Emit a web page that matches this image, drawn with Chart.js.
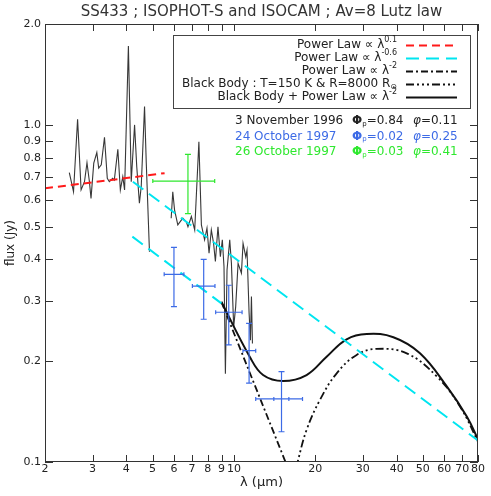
<!DOCTYPE html>
<html>
<head>
<meta charset="utf-8">
<script src="https://cdn.jsdelivr.net/npm/chart.js@4.4.1/dist/chart.umd.min.js"></script>
<style>
  html, body { margin: 0; padding: 0; background: #fff; }
</style>
</head>
<body>
<canvas id="chart" width="491" height="496"></canvas>
<script>
const FONT = '"DejaVu Sans", sans-serif';
const INK = '#222';

const titleText = 'SS433 ; ISOPHOT-S and ISOCAM ; Av=8 Lutz law';
const xTicks = [2, 3, 4, 5, 6, 7, 8, 9, 10, 20, 30, 40, 50, 60, 70, 80];
const yTicks = [0.1, 0.2, 0.3, 0.4, 0.5, 0.6, 0.7, 0.8, 0.9, 1.0, 2.0];

// 3 November 1996 spectrum (null = gap between the two detectors)
const specWave = [2.46, 2.55, 2.64, 2.72, 2.80, 2.86, 2.92, 2.96, 3.03, 3.11, 3.16, 3.23, 3.32, 3.40, 3.46,
  3.56, 3.61, 3.72, 3.80, 3.88, 3.94, 4.07, 4.17, 4.29, 4.37, 4.47, 4.54, 4.67, 4.74, 4.87,
  5.3,
  5.86, 5.94, 6.03, 6.20, 6.47, 6.67, 6.76, 6.96, 7.16, 7.42, 7.58, 7.79, 7.95, 8.09, 8.25,
  8.41, 8.54, 8.73, 8.91, 9.06, 9.19, 9.30, 9.43, 9.65, 9.79, 9.98, 10.15, 10.36, 10.66, 10.81,
  11.06, 11.18, 11.38, 11.51, 11.61, 11.71];
const specFlux = [0.724, 0.635, 1.043, 0.643, 0.680, 0.774, 0.680, 0.607, 0.772, 0.830, 0.746, 0.763, 0.922, 0.696, 0.680,
  0.696, 0.688, 0.849, 0.643, 0.704, 0.643, 1.721, 0.680, 1.003, 0.754, 0.587, 0.658, 1.137, 0.772, 0.4215,
  null,
  0.530, 0.635, 0.561, 0.506, 0.530, 0.516, 0.500, 0.536, 0.489, 0.894, 0.506, 0.457, 0.495, 0.417, 0.489,
  0.446, 0.394, 0.500, 0.407, 0.457, 0.380, 0.183, 0.372, 0.457, 0.389, 0.252, 0.289, 0.389, 0.364, 0.446,
  0.407, 0.426, 0.277, 0.230, 0.310, 0.225];

// model curves
const redWave = [2.0, 5.54];
const redFlux = [0.650, 0.721];
const cyanWave = [4.23, 80];
const cyanFlux = [0.680, 0.1158];
const cyanLowWave = [4.21, 8.99];
const cyanLowFlux = [0.467, 0.296];
const plWave = [8.99, 15.6];
const plFlux = [0.299, 0.099];
const bbWave = [16.8, 17.2, 18.57, 20.8, 24.0, 28.45, 33.7, 43.6, 56.4, 68.7, 80];
const bbFlux = [0.093, 0.100, 0.1245, 0.1528, 0.1834, 0.208, 0.2167, 0.2103, 0.1793, 0.146, 0.1149];
const sumWave = [8.99, 11.44, 12.82, 15.2, 18.57, 22.03, 26.12, 31.0, 38.9, 48.8, 61.4, 72.8, 80];
const sumFlux = [0.299, 0.2055, 0.1813, 0.174, 0.1813, 0.2055, 0.2315, 0.240, 0.2347, 0.2103, 0.1674, 0.1363, 0.1168];

// 24 October 1997 photometry (blue)
const blueWave = [6.0, 7.73, 9.57, 11.38, 15.0, 15.0];
const blueFlux = [0.361, 0.333, 0.2785, 0.2141, 0.1539, 0.1539];
const blueWaveLo = [5.52, 7.02, 8.56, 10.8, 12.04, 14.05];
const blueWaveHi = [6.53, 8.51, 10.72, 12.04, 17.94, 15.97];
const blueFluxLo = [0.2893, 0.2655, 0.2227, 0.1714, 0.1230, 0.1539];
const blueFluxHi = [0.434, 0.400, 0.335, 0.2582, 0.1855, 0.1539];

// 26 October 1997 photometry (green)
const greenWave = [6.76];
const greenFlux = [0.683];
const greenWaveLo = [5.01];
const greenWaveHi = [8.49];
const greenFluxLo = [0.547];
const greenFluxHi = [0.820];

const RED = '#ff1a1a';
const CYAN = '#00e5f0';
const BLUE = '#3d6be6';
const GREEN = '#2fe82f';

function pts(xs, ys) {
    return xs.map((x, i) => ({x: x, y: ys[i]}));
}

function line(label, xs, ys, color, width, dash, tension) {
    return {
        label: label,
        data: pts(xs, ys),
        borderColor: color,
        borderWidth: width,
        borderDash: dash,
        pointRadius: 0,
        fill: false,
        tension: tension || 0
    };
}

const datasets = [
    line('pl01', redWave, redFlux, RED, 2, [8, 5]),
    line('pl06', cyanWave, cyanFlux, CYAN, 2, [13, 7]),
    line('pl06b', cyanLowWave, cyanLowFlux, CYAN, 2, [13, 7]),
    line('pl2', plWave, plFlux, '#111', 1.8, [7, 3, 2, 3]),
    line('bb', bbWave, bbFlux, '#111', 1.8, [8, 3, 2, 3, 2, 3, 2, 3], 0.4),
    line('sum', sumWave, sumFlux, '#111', 2, [], 0.4),
    line('spec', specWave, specFlux, 'rgba(20,20,20,0.85)', 1.1, []),
    {label: 'blue', data: pts(blueWave, blueFlux), showLine: false, pointRadius: 0},
    {label: 'green', data: pts(greenWave, greenFlux), showLine: false, pointRadius: 0}
];

const legendRows = [
    {ds: 'pl01', parts: [['Power Law \u221D \u03BB', 12, 0], ['0.1', 8, -5]]},
    {ds: 'pl06', parts: [['Power Law \u221D \u03BB', 12, 0], ['-0.6', 8, -5]]},
    {ds: 'pl2', parts: [['Power Law \u221D \u03BB', 12, 0], ['-2', 8, -5]]},
    {ds: 'bb', parts: [['Black Body : T=150 K & R=8000 R', 12, 0], ['\u2299', 8, 3]]},
    {ds: 'sum', parts: [['Black Body + Power Law \u221D \u03BB', 12, 0], ['-2', 8, -5]]}
];

const notes = [
    {color: INK, date: '3 November 1996', phase: '0.84', phi: '0.11'},
    {color: BLUE, date: '24 October 1997', phase: '0.02', phi: '0.25'},
    {color: GREEN, date: '26 October 1997', phase: '0.03', phi: '0.41'}
];

// draw a run of text pieces (size, vertical shift); align 'left' or 'right'
function drawParts(ctx, parts, x, y, align) {
    let total = 0;
    for (const p of parts) {
        ctx.font = (p[3] || '') + ' ' + p[1] + 'px ' + FONT;
        total += ctx.measureText(p[0]).width;
    }
    let cx = align === 'right' ? x - total : x;
    ctx.textAlign = 'left';
    ctx.textBaseline = 'middle';
    for (const p of parts) {
        ctx.font = (p[3] || '') + ' ' + p[1] + 'px ' + FONT;
        ctx.fillText(p[0], cx, y + p[2]);
        cx += ctx.measureText(p[0]).width;
    }
}

function drawErrorBars(ctx, x, y, wave, flux, wLo, wHi, fLo, fHi, color) {
    ctx.strokeStyle = color;
    ctx.lineWidth = 1.2;
    ctx.beginPath();
    for (let i = 0; i < wave.length; i++) {
        const px = x.getPixelForValue(wave[i]);
        const py = y.getPixelForValue(flux[i]);
        const top = y.getPixelForValue(fHi[i]);
        const bot = y.getPixelForValue(fLo[i]);
        const l = x.getPixelForValue(wLo[i]);
        const r = x.getPixelForValue(wHi[i]);
        if (bot - top > 1) {
            ctx.moveTo(px, top); ctx.lineTo(px, bot);
            ctx.moveTo(px - 3, top); ctx.lineTo(px + 3, top);
            ctx.moveTo(px - 3, bot); ctx.lineTo(px + 3, bot);
        }
        ctx.moveTo(l, py); ctx.lineTo(r, py);
        ctx.moveTo(l, py - 2); ctx.lineTo(l, py + 2);
        ctx.moveTo(r, py - 2); ctx.lineTo(r, py + 2);
    }
    ctx.stroke();
}

const decorations = {
    id: 'decorations',
    afterDatasetsDraw(chart) {
        const {ctx, scales: {x, y}} = chart;
        ctx.save();
        drawErrorBars(ctx, x, y, blueWave, blueFlux, blueWaveLo, blueWaveHi, blueFluxLo, blueFluxHi, BLUE);
        drawErrorBars(ctx, x, y, greenWave, greenFlux, greenWaveLo, greenWaveHi, greenFluxLo, greenFluxHi, GREEN);
        ctx.restore();
    },
    afterDraw(chart) {
        const {ctx, chartArea: a, scales: {x, y}} = chart;
        ctx.save();
        // title, centred over the plot area
        ctx.fillStyle = '#333';
        ctx.font = '15px ' + FONT;
        ctx.textAlign = 'center';
        ctx.textBaseline = 'middle';
        ctx.fillText(titleText, (a.left + a.right) / 2, 12);

        // frame and inward ticks
        ctx.strokeStyle = '#333';
        ctx.lineWidth = 1;
        ctx.strokeRect(a.left + 0.5, a.top + 0.5, a.right - a.left - 1, a.bottom - a.top - 1);
        ctx.beginPath();
        for (const v of xTicks) {
            const px = Math.round(x.getPixelForValue(v)) + 0.5;
            ctx.moveTo(px, a.bottom); ctx.lineTo(px, a.bottom - 7);
            ctx.moveTo(px, a.top); ctx.lineTo(px, a.top + 7);
        }
        for (const v of yTicks) {
            const py = Math.round(y.getPixelForValue(v)) + 0.5;
            ctx.moveTo(a.left, py); ctx.lineTo(a.left + 8, py);
            ctx.moveTo(a.right, py); ctx.lineTo(a.right - 8, py);
        }
        ctx.stroke();

        // legend box
        ctx.fillStyle = '#fff';
        ctx.fillRect(173, 35, 297, 73);
        ctx.strokeStyle = '#444';
        ctx.strokeRect(173.5, 35.5, 297, 73);
        legendRows.forEach((row, i) => {
            const ry = 45 + i * 13;
            ctx.fillStyle = INK;
            drawParts(ctx, row.parts, 397, ry, 'right');
            const ds = chart.data.datasets.find(d => d.label === row.ds);
            ctx.strokeStyle = ds.borderColor;
            ctx.lineWidth = ds.borderWidth;
            ctx.setLineDash(ds.borderDash);
            ctx.beginPath();
            ctx.moveTo(406, ry + 0.5);
            ctx.lineTo(457, ry + 0.5);
            ctx.stroke();
            ctx.setLineDash([]);
        });

        // observation notes
        notes.forEach((n, i) => {
            const ry = 121 + i * 15.5;
            ctx.fillStyle = n.color;
            drawParts(ctx, [[n.date, 12, 0]], 235, ry, 'left');
            drawParts(ctx, [['\u03A6', 12, 0, 'bold'], ['p', 7, 3], ['=' + n.phase, 12, 0]], 352, ry, 'left');
            drawParts(ctx, [['\u03C6', 12, 0, 'italic'], ['=' + n.phi, 12, 0]], 413, ry, 'left');
        });
        ctx.restore();
    }
};

new Chart(document.getElementById('chart'), {
    type: 'line',
    data: {datasets: datasets},
    options: {
        responsive: false,
        animation: false,
        devicePixelRatio: 1,
        layout: {padding: {left: 4, right: 13, top: 24, bottom: 6}},
        plugins: {
            legend: {display: false},
            tooltip: {enabled: false},
            title: {display: false}
        },
        scales: {
            x: {
                type: 'logarithmic',
                min: 2,
                max: 80,
                grid: {display: false, drawTicks: false},
                border: {display: false},
                afterBuildTicks: s => { s.ticks = xTicks.map(v => ({value: v})); },
                afterFit: s => { s.height = 28; },
                ticks: {
                    autoSkip: false,
                    maxRotation: 0,
                    padding: 1,
                    color: INK,
                    font: {family: FONT, size: 11},
                    callback: v => String(v)
                },
                title: {display: true, text: '\u03BB (\u03BCm)', color: INK, padding: 0,
                    font: {family: FONT, size: 13}}
            },
            y: {
                type: 'logarithmic',
                min: 0.1,
                max: 2.0,
                grid: {display: false, drawTicks: false},
                border: {display: false},
                afterBuildTicks: s => { s.ticks = yTicks.map(v => ({value: v})); },
                afterFit: s => { s.width = 41; },
                ticks: {
                    autoSkip: false,
                    padding: 4,
                    color: INK,
                    font: {family: FONT, size: 11},
                    callback: v => Number(v).toFixed(1)
                },
                title: {display: true, text: 'flux (Jy)', color: INK, padding: 0,
                    font: {family: FONT, size: 12}}
            }
        }
    },
    plugins: [decorations]
});
</script>
</body>
</html>
